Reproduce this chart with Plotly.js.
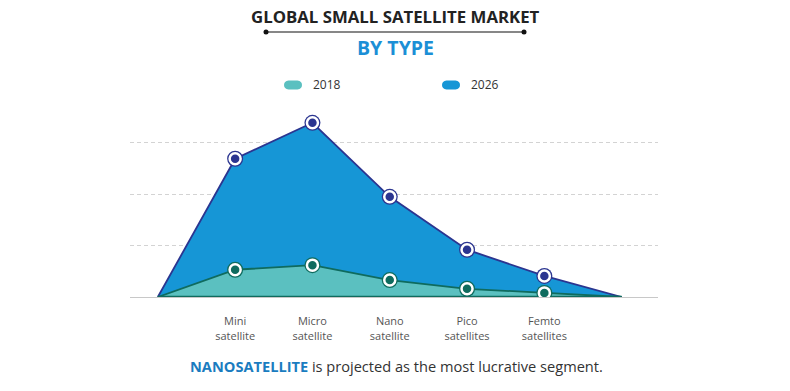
<!DOCTYPE html>
<html>
<head>
<meta charset="utf-8">
<script src="https://cdn.plot.ly/plotly-3.0.1.min.js"></script>
<style>html,body{margin:0;padding:0;background:#fff;}#chart{width:790px;height:391px;}</style>
</head>
<body>
<div id="chart"></div>
<script>
// ---- data ----
const categories = ['Mini<br>satellite', 'Micro<br>satellite', 'Nano<br>satellite', 'Pico<br>satellites', 'Femto<br>satellites'];
const values2018 = [0.53, 0.62, 0.33, 0.16, 0.08];
const values2026 = [2.69, 3.39, 1.95, 0.92, 0.41];
const seriesNames = ['2018', '2026'];

// ---- styles ----
const fill2026 = '#1696d6', line2026 = '#2b3590';
const fill2018 = '#5bc0c0', line2018 = '#0f6b5e';
const FONT = 'Open Sans, sans-serif';

const n = categories.length;
const catX = categories.map((c, i) => i + 1);
const areaX = [0].concat(catX, [n + 1]);
const area = v => [0].concat(v, [0]);

function areaTrace(vals, fill, line) {
  return {x: areaX, y: area(vals), type: 'scatter', mode: 'lines', fill: 'tozeroy',
    fillcolor: fill, line: {color: line, width: 1.8}, hoverinfo: 'skip', showlegend: false};
}
function markerTraces(vals, color) {
  return [
    {x: catX, y: vals, type: 'scatter', mode: 'markers', marker: {size: 16, color: color}, showlegend: false, hoverinfo: 'skip'},
    {x: catX, y: vals, type: 'scatter', mode: 'markers', marker: {size: 11, color: color, line: {color: '#ffffff', width: 2.5}}, showlegend: false, hoverinfo: 'skip'}
  ];
}

const traces = [
  areaTrace(values2026, fill2026, line2026),
  areaTrace(values2018, fill2018, line2018),
  {x: [0, n + 1], y: [0, 0], type: 'scatter', mode: 'lines', line: {color: line2018, width: 2.5}, showlegend: false, hoverinfo: 'skip'},
  ...markerTraces(values2026, line2026),
  ...markerTraces(values2018, line2018)
];

// geometry helpers (plot area: left 130, right 658, top 112, bottom 297)
const L = 130, R = 658, T = 112, B = 297;
const px = p => (p - L) / (R - L);
const py = p => (B - p) / (B - T);

function pill(cx, cy, color) {
  return {type: 'path', xref: 'paper', yref: 'paper', xsizemode: 'pixel', ysizemode: 'pixel',
    xanchor: px(cx), yanchor: py(cy),
    path: 'M -4.5,-4.5 L 4.5,-4.5 C 10.5,-4.5 10.5,4.5 4.5,4.5 L -4.5,4.5 C -10.5,4.5 -10.5,-4.5 -4.5,-4.5 Z',
    fillcolor: color, line: {width: 0}};
}
function dot(cx, cy) {
  return {type: 'circle', xref: 'paper', yref: 'paper', xsizemode: 'pixel', ysizemode: 'pixel',
    xanchor: px(cx), yanchor: py(cy), x0: -2.5, x1: 2.5, y0: -2.5, y1: 2.5,
    fillcolor: '#111', line: {width: 0}};
}

const layout = {
  width: 790, height: 391,
  margin: {l: L, r: 790 - R, t: T, b: 391 - B, pad: 0},
  paper_bgcolor: '#ffffff', plot_bgcolor: '#ffffff',
  showlegend: false,
  font: {family: FONT, color: '#555'},
  xaxis: {range: [-0.36, n + 1.47], tickvals: catX, ticktext: categories,
    showgrid: false, zeroline: false, showline: false,
    ticks: 'outside', ticklen: 14, tickcolor: 'rgba(0,0,0,0)',
    tickfont: {family: FONT, size: 11, color: '#555'}, fixedrange: true},
  yaxis: {range: [0, 3.6], dtick: 1, showticklabels: false, ticks: '',
    showgrid: true, gridcolor: '#d3d3d3', griddash: '4px,3px', gridwidth: 1,
    zeroline: true, zerolinecolor: '#c8c8c8', zerolinewidth: 1, showline: false, fixedrange: true},
  shapes: [
    {type: 'line', xref: 'paper', yref: 'paper', x0: px(266), x1: px(524), y0: py(32), y1: py(32), line: {color: '#111', width: 1.2}},
    dot(266, 32), dot(524, 32),
    pill(293, 85, fill2018), pill(451, 85, fill2026)
  ],
  annotations: [
    {xref: 'paper', yref: 'paper', x: px(395), y: py(17), xanchor: 'center', yanchor: 'middle', showarrow: false,
      text: '<b>GLOBAL SMALL SATELLITE MARKET</b>', font: {family: FONT, size: 16.8, color: '#222'}},
    {xref: 'paper', yref: 'paper', x: px(395), y: py(47), xanchor: 'center', yanchor: 'middle', showarrow: false,
      text: '<b>BY TYPE</b>', font: {family: FONT, size: 19.5, color: '#1b8fd6'}},
    {xref: 'paper', yref: 'paper', x: px(311), y: py(85), xanchor: 'left', yanchor: 'middle', showarrow: false,
      text: seriesNames[0], font: {family: FONT, size: 12, color: '#333'}},
    {xref: 'paper', yref: 'paper', x: px(469), y: py(85), xanchor: 'left', yanchor: 'middle', showarrow: false,
      text: seriesNames[1], font: {family: FONT, size: 12, color: '#333'}},
    {xref: 'paper', yref: 'paper', x: px(396), y: py(366), xanchor: 'center', yanchor: 'middle', showarrow: false,
      text: '<b><span style="color:#1a7cc0">NANOSATELLITE</span></b> is projected as the most lucrative segment.',
      font: {family: FONT, size: 14.6, color: '#333'}}
  ]
};

Plotly.newPlot('chart', traces, layout, {displayModeBar: false, staticPlot: true});
</script>
</body>
</html>
